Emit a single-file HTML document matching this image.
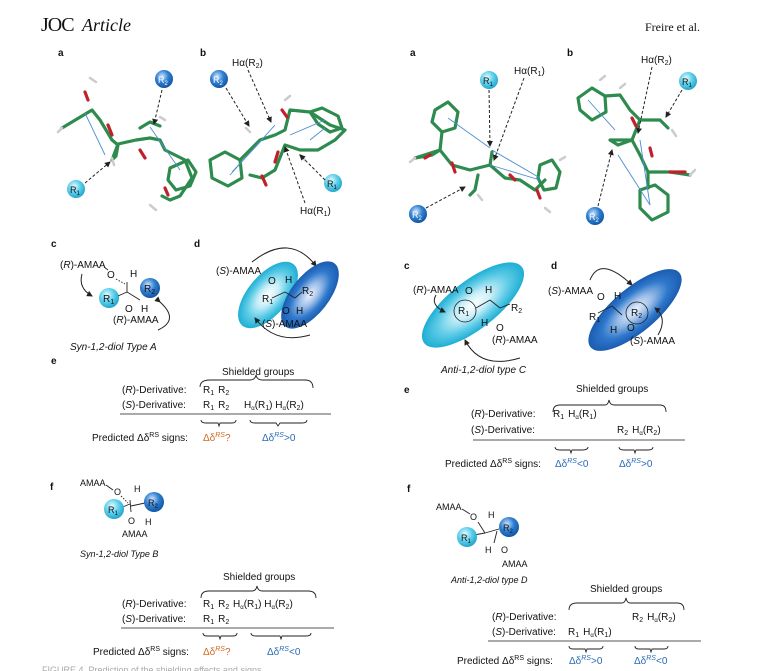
<!DOCTYPE html>
<html><head><meta charset="utf-8"><style>
html,body{margin:0;padding:0;background:#fff;width:759px;height:671px;overflow:hidden}
svg{display:block}
text{font-family:"Liberation Sans",sans-serif;font-size:10px;fill:#111}
.b{font-weight:bold;font-size:10px}
.it{font-style:italic}
.or{fill:#d2691e}.bl{fill:#2a6ab5}
.g{stroke:#2e8b4e;stroke-width:3.2;fill:none;stroke-linecap:round;stroke-linejoin:round}
.r{stroke:#c0202a;stroke-width:3.2;fill:none;stroke-linecap:round}
.h{stroke:#ccc;stroke-width:2.5;fill:none;stroke-linecap:round}
.ar{stroke:#4a90d0;stroke-width:0.9;fill:none}
.dash{stroke:#222;stroke-width:1;stroke-dasharray:3,2;fill:none}
.br{stroke:#222;stroke-width:0.9;fill:none}
.cur{stroke:#222;stroke-width:1;fill:none}
</style></head><body>
<svg width="759" height="671" viewBox="0 0 759 671" xmlns="http://www.w3.org/2000/svg">
<defs>
<radialGradient id="lc" cx="40%" cy="35%" r="70%"><stop offset="0" stop-color="#e8fbff"/><stop offset=".5" stop-color="#5cd0ea"/><stop offset="1" stop-color="#1aa0c8"/></radialGradient>
<radialGradient id="dk" cx="40%" cy="35%" r="70%"><stop offset="0" stop-color="#cfe4ff"/><stop offset=".5" stop-color="#2f7fd0"/><stop offset="1" stop-color="#0f4f9f"/></radialGradient>
<radialGradient id="elc" cx="50%" cy="50%" r="50%"><stop offset="0" stop-color="#ffffff"/><stop offset=".35" stop-color="#c8eef8"/><stop offset=".7" stop-color="#5ccbe6"/><stop offset="1" stop-color="#1eaed4"/></radialGradient>
<radialGradient id="edk" cx="50%" cy="50%" r="50%"><stop offset="0" stop-color="#eef3ff"/><stop offset=".35" stop-color="#9cbfe8"/><stop offset=".7" stop-color="#2f78cc"/><stop offset="1" stop-color="#1a5cb0"/></radialGradient>
<marker id="m" markerWidth="6" markerHeight="6" refX="5" refY="3" orient="auto"><path d="M0,0L6,3L0,6z" fill="#222"/></marker>
</defs>

<!-- header -->
<text x="41" y="31" style="font-family:'Liberation Serif',serif;font-size:20px;letter-spacing:-1px">JOC</text>
<text x="82" y="31" style="font-family:'Liberation Serif',serif;font-size:18px;font-style:italic">Article</text>
<text x="645" y="31" style="font-family:'Liberation Serif',serif;font-size:12px">Freire et al.</text>

<text class="b" x="58" y="56">a</text><text class="b" x="200" y="56">b</text>
<text class="b" x="410" y="56">a</text><text class="b" x="567" y="56">b</text>

<!-- left a molecule -->
<polyline class="g" points="62,128 92,110 100,120 112,140 118,145 116,156 112,160 118,144 136,140 150,138 160,140 165,150 185,160 192,178 180,196 170,200 162,196"/>
<polyline class="r" points="85,92 88,100"/><polyline class="r" points="108,125 112,135"/><polyline class="r" points="140,150 145,158"/><polyline class="r" points="165,188 168,195"/>
<polyline class="g" points="140,128 150,122 160,126"/>
<polygon points="170,168 188,160 196,172 190,186 176,190 168,180" class="g"/>
<polyline class="h" points="90,78 96,82"/><polyline class="h" points="62,128 58,132"/><polyline class="h" points="112,158 114,165"/><polyline class="h" points="165,120 160,117"/><polyline class="h" points="150,205 156,210"/>
<line class="ar" x1="85" y1="113" x2="105" y2="155"/><line class="ar" x1="150" y1="127" x2="180" y2="170"/>
<circle cx="164" cy="79" r="9" fill="url(#dk)"/><text x="158" y="83" style="font-size:9px;fill:#fff">R<tspan font-size="6" dy="2">2</tspan></text>
<circle cx="76" cy="189" r="9" fill="url(#lc)"/><text x="70" y="193" style="font-size:9px">R<tspan font-size="6" dy="2">1</tspan></text>
<line class="dash" x1="162" y1="90" x2="154" y2="124" marker-end="url(#m)"/>
<line class="dash" x1="85" y1="183" x2="110" y2="162" marker-end="url(#m)"/>

<!-- left b molecule -->
<polygon class="g" points="210,160 225,152 240,160 242,178 228,186 212,178"/>
<polyline class="g" points="240,160 260,140 275,135 285,130 290,110 310,112 330,125 345,130 335,140 318,150 300,150 285,145 275,170 262,178 250,175"/>
<polygon class="g" points="310,112 322,108 338,116 342,128 330,132 318,124"/>
<polyline class="r" points="278,152 275,162"/><polyline class="r" points="282,110 287,117"/><polyline class="r" points="262,176 266,185"/>
<polyline class="h" points="250,132 246,128"/><polyline class="h" points="300,155 305,160"/><polyline class="h" points="285,100 290,96"/>
<line class="ar" x1="230" y1="175" x2="275" y2="125"/><line class="ar" x1="232" y1="172" x2="262" y2="140"/><line class="ar" x1="290" y1="135" x2="325" y2="120"/><line class="ar" x1="310" y1="140" x2="325" y2="128"/>
<circle cx="219" cy="79" r="9" fill="url(#dk)"/><text x="213" y="83" style="font-size:9px;fill:#fff">R<tspan font-size="6" dy="2">2</tspan></text>
<circle cx="333" cy="183" r="9" fill="url(#lc)"/><text x="327" y="187" style="font-size:9px">R<tspan font-size="6" dy="2">1</tspan></text>
<text x="232" y="66">Hα(R<tspan font-size="7" dy="2">2</tspan><tspan dy="-2">)</tspan></text>
<text x="300" y="214">Hα(R<tspan font-size="7" dy="2">1</tspan><tspan dy="-2">)</tspan></text>
<line class="dash" x1="226" y1="88" x2="249" y2="126" marker-end="url(#m)"/>
<line class="dash" x1="248" y1="70" x2="271" y2="122" marker-end="url(#m)"/>
<line class="dash" x1="325" y1="180" x2="300" y2="155" marker-end="url(#m)"/>
<line class="dash" x1="305" y1="203" x2="285" y2="147" marker-end="url(#m)"/>

<!-- right a molecule -->
<polygon class="g" points="435,110 448,102 458,112 455,128 442,132 432,122"/>
<polyline class="g" points="442,132 440,150 432,155 415,158 440,150 452,165 470,170 490,165 492,152 490,165 505,178 520,180 535,190 545,180"/>
<polyline class="g" points="478,175 475,190 470,195"/>
<polygon class="g" points="540,165 552,160 560,172 556,188 544,190 538,178"/>
<polyline class="r" points="430,155 425,158"/><polyline class="r" points="452,163 455,172"/><polyline class="r" points="510,175 515,180"/><polyline class="r" points="537,190 540,198"/>
<polyline class="h" points="415,158 410,162"/><polyline class="h" points="478,195 482,200"/><polyline class="h" points="560,160 565,157"/><polyline class="h" points="545,208 550,212"/>
<line class="ar" x1="448" y1="118" x2="490" y2="148"/><line class="ar" x1="540" y1="178" x2="492" y2="150"/><line class="ar" x1="540" y1="180" x2="490" y2="165"/>
<circle cx="489" cy="80" r="9" fill="url(#lc)"/><text x="483" y="84" style="font-size:9px">R<tspan font-size="6" dy="2">1</tspan></text>
<circle cx="418" cy="214" r="9" fill="url(#dk)"/><text x="412" y="218" style="font-size:9px;fill:#fff">R<tspan font-size="6" dy="2">2</tspan></text>
<text x="514" y="74">Hα(R<tspan font-size="7" dy="2">1</tspan><tspan dy="-2">)</tspan></text>
<line class="dash" x1="489" y1="90" x2="490" y2="146" marker-end="url(#m)"/>
<line class="dash" x1="524" y1="78" x2="494" y2="160" marker-end="url(#m)"/>
<line class="dash" x1="426" y1="208" x2="465" y2="187" marker-end="url(#m)"/>

<!-- right b molecule -->
<polygon class="g" points="578,98 592,88 605,96 606,112 592,120 580,110"/>
<polyline class="g" points="605,96 620,95 630,110 640,120 660,120 668,128 660,120 640,120 632,140 618,145 610,140 632,140 640,155 648,172 670,172 690,175"/>
<polygon class="g" points="640,190 655,185 668,195 668,212 652,220 640,208"/>
<polyline class="g" points="648,172 648,188"/>
<polyline class="r" points="632,118 636,126"/><polyline class="r" points="650,148 652,156"/><polyline class="r" points="670,172 685,172"/>
<polyline class="h" points="600,80 605,76"/><polyline class="h" points="620,88 625,84"/><polyline class="h" points="672,130 676,136"/><polyline class="h" points="690,175 695,170"/>
<line class="ar" x1="588" y1="100" x2="615" y2="130"/><line class="ar" x1="650" y1="205" x2="618" y2="155"/><line class="ar" x1="650" y1="205" x2="640" y2="140"/>
<circle cx="688" cy="81" r="9" fill="url(#lc)"/><text x="682" y="85" style="font-size:9px">R<tspan font-size="6" dy="2">1</tspan></text>
<circle cx="595" cy="216" r="9" fill="url(#dk)"/><text x="589" y="220" style="font-size:9px;fill:#fff">R<tspan font-size="6" dy="2">2</tspan></text>
<text x="641" y="63">Hα(R<tspan font-size="7" dy="2">2</tspan><tspan dy="-2">)</tspan></text>
<line class="dash" x1="652" y1="67" x2="638" y2="133" marker-end="url(#m)"/>
<line class="dash" x1="682" y1="90" x2="666" y2="117" marker-end="url(#m)"/>
<line class="dash" x1="598" y1="206" x2="612" y2="150" marker-end="url(#m)"/>

<!-- left c -->
<text class="b" x="51" y="247">c</text>
<text x="60" y="268">(<tspan class="it">R</tspan>)-AMAA</text>
<line class="br" x1="104" y1="267" x2="108" y2="270"/>
<text x="107" y="278">O</text><text x="130" y="277">H</text>
<line class="br" x1="116" y1="279" x2="125" y2="284" stroke-dasharray="1.5,1.5"/>
<line class="br" x1="127" y1="282" x2="127" y2="292" stroke-width="2"/>
<line class="br" x1="127" y1="292" x2="140" y2="300"/>
<circle cx="109" cy="298" r="10" fill="url(#lc)"/><text x="103" y="302" style="font-size:10px">R<tspan font-size="7" dy="2">1</tspan></text>
<circle cx="150" cy="288" r="10" fill="url(#dk)"/><text x="144" y="292" style="font-size:10px">R<tspan font-size="7" dy="2">2</tspan></text>
<line class="br" x1="118" y1="296" x2="127" y2="292"/>
<text x="125" y="312">O</text><text x="141" y="312">H</text>
<text x="113" y="323">(<tspan class="it">R</tspan>)-AMAA</text>
<path class="cur" d="M82,274 Q78,288 92,296" marker-end="url(#m)"/>
<path class="cur" d="M160,302 Q180,320 158,330" marker-start="url(#m)"/>
<text class="it" x="70" y="350">Syn-1,2-diol Type A</text>

<!-- left d -->
<text class="b" x="194" y="247">d</text>
<path class="cur" d="M252,262 Q290,232 316,266" marker-end="url(#m)"/>
<ellipse cx="268" cy="295" rx="40" ry="20" transform="rotate(-50 268 295)" fill="url(#elc)"/>
<ellipse cx="310" cy="295" rx="40" ry="19" transform="rotate(-52 310 295)" fill="url(#edk)"/>
<text x="216" y="274">(<tspan class="it">S</tspan>)-AMAA</text>
<text x="268" y="284">O</text><text x="285" y="283">H</text>
<text x="262" y="302">R<tspan font-size="7" dy="2">1</tspan></text>
<text x="302" y="294">R<tspan font-size="7" dy="2">2</tspan></text>
<line class="br" x1="272" y1="298" x2="285" y2="292"/><line class="br" x1="285" y1="292" x2="295" y2="298"/><line class="br" x1="295" y1="298" x2="302" y2="292"/>
<text x="282" y="314">O</text><text x="296" y="314">H</text>
<text x="262" y="327">(<tspan class="it">S</tspan>)-AMAA</text>
<path class="cur" d="M310,335 Q275,345 255,318" marker-end="url(#m)"/>

<!-- left e -->
<text class="b" x="51" y="364">e</text>
<text x="222" y="375">Shielded groups</text>
<path class="br" d="M200,387 Q200,380 210,380 L250,380 Q255,380 256,375 Q257,380 262,380 L305,380 Q313,380 313,388"/>
<text x="122" y="393">(<tspan class="it">R</tspan>)-Derivative:</text>
<text x="203" y="393">R<tspan font-size="7" dy="2">1</tspan><tspan dx="4" dy="-2">R</tspan><tspan font-size="7" dy="2">2</tspan></text>
<text x="122" y="408">(<tspan class="it">S</tspan>)-Derivative:</text>
<text x="203" y="408">R<tspan font-size="7" dy="2">1</tspan><tspan dx="4" dy="-2">R</tspan><tspan font-size="7" dy="2">2</tspan></text>
<text x="244" y="408">H<tspan font-size="6" dy="2">α</tspan><tspan dy="-2">(R</tspan><tspan font-size="7" dy="2">1</tspan><tspan dy="-2">) H</tspan><tspan font-size="6" dy="2">α</tspan><tspan dy="-2">(R</tspan><tspan font-size="7" dy="2">2</tspan><tspan dy="-2">)</tspan></text>
<line x1="120" y1="414" x2="331" y2="414" stroke="#555" stroke-width="1"/>
<path class="br" d="M201,420 Q201,423 206,423 L218,423 L219,426 L220,423 L232,423 Q236,423 236,420"/>
<path class="br" d="M250,420 Q250,423 255,423 L276,423 L278,426 L280,423 L302,423 Q307,423 307,420"/>
<text x="92" y="441">Predicted Δδ<tspan font-size="7" dy="-4">RS</tspan><tspan dy="4"> signs:</tspan></text>
<text class="or" x="203" y="441">Δδ<tspan font-size="7" dy="-4" font-style="italic">RS</tspan><tspan dy="4">?</tspan></text>
<text class="bl" x="262" y="441">Δδ<tspan font-size="7" dy="-4" font-style="italic">RS</tspan><tspan dy="4">&gt;0</tspan></text>

<!-- right c -->
<text class="b" x="404" y="269">c</text>
<ellipse cx="473" cy="305" rx="62" ry="24" transform="rotate(-38 473 305)" fill="url(#elc)"/>
<text x="413" y="293">(<tspan class="it">R</tspan>)-AMAA</text>
<text x="465" y="294">O</text><text x="485" y="293">H</text>
<circle cx="465" cy="311" r="11" fill="none" stroke="#222" stroke-width=".8"/>
<text x="458" y="314">R<tspan font-size="7" dy="2">1</tspan></text>
<line class="br" x1="476" y1="308" x2="490" y2="300"/><line class="br" x1="490" y1="300" x2="500" y2="308"/><line class="br" x1="500" y1="308" x2="510" y2="304"/>
<text x="511" y="311">R<tspan font-size="7" dy="2">2</tspan></text>
<text x="481" y="326">H</text><text x="496" y="331">O</text>
<text x="492" y="343">(<tspan class="it">R</tspan>)-AMAA</text>
<path class="cur" d="M436,295 Q430,305 445,312" marker-end="url(#m)"/>
<path class="cur" d="M520,358 Q480,370 465,340" marker-end="url(#m)"/>
<text class="it" x="441" y="373">Anti-1,2-diol type C</text>

<!-- right d -->
<text class="b" x="551" y="269">d</text>
<path class="cur" d="M590,280 Q600,255 632,285" marker-end="url(#m)"/>
<ellipse cx="635" cy="310" rx="58" ry="22" transform="rotate(-40 635 310)" fill="url(#edk)"/>
<text x="548" y="294">(<tspan class="it">S</tspan>)-AMAA</text>
<text x="597" y="300">O</text><text x="614" y="299">H</text>
<text x="589" y="320">R<tspan font-size="7" dy="2">1</tspan></text>
<circle cx="637" cy="313" r="11" fill="none" stroke="#222" stroke-width=".8"/>
<text x="631" y="316">R<tspan font-size="7" dy="2">2</tspan></text>
<line class="br" x1="598" y1="313" x2="612" y2="306"/><line class="br" x1="612" y1="306" x2="622" y2="315"/>
<text x="610" y="333">H</text><text x="627" y="331">O</text>
<text x="630" y="344">(<tspan class="it">S</tspan>)-AMAA</text>
<path class="cur" d="M658,335 Q668,318 655,308" marker-end="url(#m)"/>

<!-- right e -->
<text class="b" x="404" y="393">e</text>
<text x="576" y="392">Shielded groups</text>
<path class="br" d="M553,412 Q553,405 560,405 L605,405 Q608,405 609,400 Q610,405 614,405 L660,405 Q666,405 666,412"/>
<text x="471" y="417">(<tspan class="it">R</tspan>)-Derivative:</text>
<text x="553" y="417">R<tspan font-size="7" dy="2">1</tspan><tspan dx="4" dy="-2">H</tspan><tspan font-size="6" dy="2">α</tspan><tspan dy="-2">(R</tspan><tspan font-size="7" dy="2">1</tspan><tspan dy="-2">)</tspan></text>
<text x="471" y="433">(<tspan class="it">S</tspan>)-Derivative:</text>
<text x="617" y="433">R<tspan font-size="7" dy="2">2</tspan><tspan dx="4" dy="-2">H</tspan><tspan font-size="6" dy="2">α</tspan><tspan dy="-2">(R</tspan><tspan font-size="7" dy="2">2</tspan><tspan dy="-2">)</tspan></text>
<line x1="473" y1="440" x2="685" y2="440" stroke="#555" stroke-width="1"/>
<path class="br" d="M555,447 Q555,450 560,450 L570,450 L571,453 L572,450 L582,450 Q588,450 588,447"/>
<path class="br" d="M619,447 Q619,450 624,450 L634,450 L635,453 L636,450 L648,450 Q653,450 653,447"/>
<text x="445" y="467">Predicted Δδ<tspan font-size="7" dy="-4">RS</tspan><tspan dy="4"> signs:</tspan></text>
<text class="bl" x="555" y="467">Δδ<tspan font-size="7" dy="-4" font-style="italic">RS</tspan><tspan dy="4">&lt;0</tspan></text>
<text class="bl" x="619" y="467">Δδ<tspan font-size="7" dy="-4" font-style="italic">RS</tspan><tspan dy="4">&gt;0</tspan></text>

<!-- left f -->
<text class="b" x="50" y="490">f</text>
<text x="80" y="486" style="font-size:9px">AMAA</text>
<line class="br" x1="106" y1="485" x2="113" y2="490"/>
<text x="114" y="495" style="font-size:9px">O</text><text x="134" y="492" style="font-size:9px">H</text>
<line class="br" x1="121" y1="496" x2="128" y2="503" stroke-dasharray="1.5,1.5"/>
<line class="br" x1="130" y1="500" x2="131" y2="512" stroke-width="2"/>
<line class="br" x1="120" y1="508" x2="130" y2="504"/>
<line class="br" x1="131" y1="506" x2="145" y2="503"/>
<circle cx="114" cy="509" r="10" fill="url(#lc)"/><text x="108" y="513" style="font-size:9px">R<tspan font-size="6" dy="2">1</tspan></text>
<circle cx="154" cy="502" r="10" fill="url(#dk)"/><text x="148" y="506" style="font-size:9px">R<tspan font-size="6" dy="2">2</tspan></text>
<text x="128" y="524" style="font-size:9px">O</text><text x="145" y="525" style="font-size:9px">H</text>
<text x="122" y="537" style="font-size:9px">AMAA</text>
<text class="it" x="80" y="557" style="font-size:9px">Syn-1,2-diol Type B</text>
<text x="223" y="580">Shielded groups</text>
<path class="br" d="M201,598 Q201,591 209,591 L252,591 Q256,591 257,586 Q258,591 262,591 L308,591 Q316,591 316,598"/>
<text x="122" y="607">(<tspan class="it">R</tspan>)-Derivative:</text>
<text x="203" y="607">R<tspan font-size="7" dy="2">1</tspan><tspan dx="4" dy="-2">R</tspan><tspan font-size="7" dy="2">2</tspan></text>
<text x="233" y="607">H<tspan font-size="6" dy="2">α</tspan><tspan dy="-2">(R</tspan><tspan font-size="7" dy="2">1</tspan><tspan dy="-2">) H</tspan><tspan font-size="6" dy="2">α</tspan><tspan dy="-2">(R</tspan><tspan font-size="7" dy="2">2</tspan><tspan dy="-2">)</tspan></text>
<text x="122" y="622">(<tspan class="it">S</tspan>)-Derivative:</text>
<text x="203" y="622">R<tspan font-size="7" dy="2">1</tspan><tspan dx="4" dy="-2">R</tspan><tspan font-size="7" dy="2">2</tspan></text>
<line x1="121" y1="628" x2="334" y2="628" stroke="#555" stroke-width="1"/>
<path class="br" d="M203,633 Q203,636 207,636 L219,636 L220,639 L221,636 L233,636 Q237,636 237,633"/>
<path class="br" d="M251,633 Q251,636 256,636 L280,636 L281,639 L282,636 L306,636 Q311,636 311,633"/>
<text x="93" y="655">Predicted Δδ<tspan font-size="7" dy="-4">RS</tspan><tspan dy="4"> signs:</tspan></text>
<text class="or" x="203" y="655">Δδ<tspan font-size="7" dy="-4" font-style="italic">RS</tspan><tspan dy="4">?</tspan></text>
<text class="bl" x="267" y="655">Δδ<tspan font-size="7" dy="-4" font-style="italic">RS</tspan><tspan dy="4">&lt;0</tspan></text>

<!-- right f -->
<text class="b" x="407" y="492">f</text>
<text x="436" y="510" style="font-size:9px">AMAA</text>
<line class="br" x1="462" y1="509" x2="470" y2="514"/>
<text x="470" y="520" style="font-size:9px">O</text><text x="488" y="518" style="font-size:9px">H</text>
<line class="br" x1="478" y1="522" x2="485" y2="533" stroke-width="2"/>
<line class="br" x1="474" y1="535" x2="485" y2="533"/>
<line class="br" x1="485" y1="533" x2="499" y2="529"/>
<line class="br" x1="497" y1="531" x2="494" y2="543" stroke-width="2"/>
<circle cx="467" cy="537" r="10" fill="url(#lc)"/><text x="461" y="541" style="font-size:9px">R<tspan font-size="6" dy="2">1</tspan></text>
<circle cx="509" cy="527" r="10" fill="url(#dk)"/><text x="503" y="531" style="font-size:9px">R<tspan font-size="6" dy="2">2</tspan></text>
<text x="485" y="553" style="font-size:9px">H</text><text x="501" y="553" style="font-size:9px">O</text>
<text x="502" y="567" style="font-size:9px">AMAA</text>
<text class="it" x="451" y="583" style="font-size:9px">Anti-1,2-diol type D</text>
<text x="590" y="592">Shielded groups</text>
<path class="br" d="M569,610 Q569,603 577,603 L622,603 Q625,603 626,598 Q627,603 630,603 L677,603 Q684,603 684,610"/>
<text x="492" y="620">(<tspan class="it">R</tspan>)-Derivative:</text>
<text x="632" y="620">R<tspan font-size="7" dy="2">2</tspan><tspan dx="4" dy="-2">H</tspan><tspan font-size="6" dy="2">α</tspan><tspan dy="-2">(R</tspan><tspan font-size="7" dy="2">2</tspan><tspan dy="-2">)</tspan></text>
<text x="492" y="635">(<tspan class="it">S</tspan>)-Derivative:</text>
<text x="568" y="635">R<tspan font-size="7" dy="2">1</tspan><tspan dx="4" dy="-2">H</tspan><tspan font-size="6" dy="2">α</tspan><tspan dy="-2">(R</tspan><tspan font-size="7" dy="2">1</tspan><tspan dy="-2">)</tspan></text>
<line x1="488" y1="641" x2="701" y2="641" stroke="#555" stroke-width="1"/>
<path class="br" d="M569,646 Q569,649 573,649 L585,649 L586,652 L587,649 L599,649 Q603,649 603,646"/>
<path class="br" d="M635,646 Q635,649 639,649 L650,649 L651,652 L652,649 L664,649 Q668,649 668,646"/>
<text x="457" y="664">Predicted Δδ<tspan font-size="7" dy="-4">RS</tspan><tspan dy="4"> signs:</tspan></text>
<text class="bl" x="569" y="664">Δδ<tspan font-size="7" dy="-4" font-style="italic">RS</tspan><tspan dy="4">&gt;0</tspan></text>
<text class="bl" x="634" y="664">Δδ<tspan font-size="7" dy="-4" font-style="italic">RS</tspan><tspan dy="4">&lt;0</tspan></text>

<text x="42" y="673" style="font-size:9px;fill:#aaa">FIGURE 4. Prediction of the shielding effects and signs</text>
</svg>
</body></html>
